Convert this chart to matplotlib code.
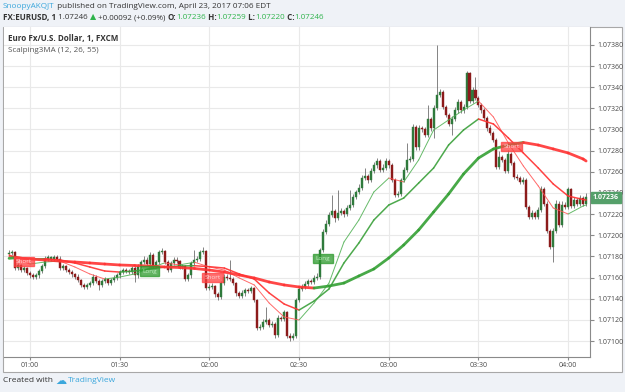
import numpy as np
import matplotlib
matplotlib.use("Agg")
import matplotlib.pyplot as plt
from matplotlib.collections import LineCollection
from matplotlib.patches import Rectangle

# ---------------- data (prices in 1e-5 units above 1.07000) ----------------
BASE = 1.07
first_minute = 53          # first 1-minute bar at 00:53
last_minute = 246          # last bar at 04:06

opens_pts = [
    182,183,184,169,172,167,169,164,162,161,
    162,166,171,178,178,178,179,178,169,171,
    167,165,163,161,158,153,151,153,155,161,
    157,153,157,159,155,158,160,162,165,167,
    166,165,169,162,171,175,177,173,181,171,
    175,184,185,175,167,174,177,176,170,171,
    159,162,174,177,178,184,185,150,151,152,
    144,142,155,161,160,159,155,145,143,145,
    148,147,150,139,112,113,118,120,115,116,
    106,122,121,127,105,103,105,139,149,151,
    154,157,156,160,161,186,203,211,219,223,
    216,221,223,220,226,229,236,241,245,254,
    256,252,261,266,270,262,264,270,266,252,
    238,239,252,262,271,272,302,283,301,300,
    295,310,301,320,333,335,321,314,305,310,
    318,326,318,321,353,327,337,330,323,318,
    311,301,297,290,265,274,271,261,277,268,
    255,254,250,252,227,217,221,217,224,244,
    230,204,189,204,230,210,229,227,244,228,
    233,230,235,230]
closes_pts = [
    183,184,169,172,167,169,164,162,161,162,
    166,171,178,178,178,179,178,169,171,167,
    165,163,161,158,153,151,153,155,161,157,
    153,157,159,155,158,160,162,165,167,166,
    165,169,162,171,175,177,173,181,171,175,
    184,185,175,167,174,177,176,170,171,159,
    162,174,177,178,184,185,150,151,152,144,
    142,155,161,160,159,155,145,143,145,148,
    147,150,139,112,113,118,120,115,116,106,
    122,121,127,105,103,105,139,149,151,154,
    157,156,160,161,186,203,211,219,223,216,
    221,223,220,226,229,236,241,245,254,256,
    252,261,266,270,262,264,270,266,252,238,
    239,252,262,271,272,302,283,301,300,295,
    310,301,320,333,335,321,314,305,310,318,
    326,318,321,353,327,337,330,323,318,311,
    301,297,290,265,274,271,261,277,268,255,
    254,250,252,227,217,221,217,224,244,230,
    204,189,204,230,210,229,227,244,228,233,
    230,235,230,236]
highs_pts = [
    186,186,185,174,173,171,170,166,164,164,
    168,173,180,181,180,181,181,180,173,172,
    169,167,164,163,159,155,155,157,163,162,
    159,159,161,160,160,162,164,167,169,169,
    168,171,171,173,177,180,179,184,183,177,
    186,188,186,177,176,179,179,177,173,172,
    164,176,186,180,186,189,186,154,155,153,
    146,157,163,163,177,161,156,147,148,150,
    150,152,151,140,116,121,132,122,119,118,
    125,124,129,128,108,108,141,152,154,157,
    159,159,162,164,188,206,214,222,238,225,
    243,226,225,229,243,239,243,248,257,264,
    258,264,269,273,272,267,273,272,268,254,
    242,254,265,287,275,305,304,304,303,302,
    323,312,323,380,338,337,323,316,313,321,
    329,328,324,355,354,340,350,332,325,320,
    313,304,299,292,280,276,273,281,279,270,
    258,256,255,254,229,224,223,227,247,246,
    232,206,207,233,232,232,231,246,245,236,
    235,238,237,240]
lows_pts = [
    180,181,167,167,165,165,162,160,159,159,
    160,164,169,176,176,176,176,167,167,165,
    163,161,159,156,151,149,149,151,153,155,
    148,151,155,153,153,156,158,160,163,164,
    163,163,156,160,169,173,171,171,169,169,
    173,182,173,165,165,172,174,168,168,157,
    157,160,172,175,176,182,148,148,149,142,
    139,140,153,158,157,153,143,141,141,143,
    145,145,137,110,110,111,116,113,113,103,
    104,119,119,103,100,101,103,137,147,149,
    152,154,154,158,159,184,201,209,217,213,
    214,219,217,218,224,227,234,239,243,252,
    249,250,259,264,260,260,262,264,250,236,
    236,237,250,260,269,270,281,281,298,293,
    293,299,292,318,331,319,312,303,295,308,
    316,316,316,319,325,325,328,321,316,309,
    299,295,288,263,263,269,259,259,266,253,
    252,248,248,225,215,215,215,215,222,228,
    202,187,175,202,208,208,225,225,226,226,
    228,228,228,228]

# Scalping3MA moving averages at these minutes
ma_minutes = [53, 55] + list(range(60, 246, 5)) + [246]
ma_slow_pts = [178.2,178.7,177.5,176.6,175.6,174.7,173.8,172.8,171.9,171.4,
               170.9,170.0,169.5,168.6,167.1,165.2,162.4,159.6,155.8,153.0,
               151.1,150.1,152.0,154.8,161.5,168.1,178.5,190.8,205.0,222.0,
               239.0,257.9,273.0,281.6,285.3,287.7,285.3,281.6,277.8,272.1,270.2]
ma_mid_pts = [180.4,179.9,177.5,177.8,176.6,173.8,170.0,166.2,165.2,166.2,
              168.1,170.0,170.9,171.2,170.3,169.0,163.4,158.6,145.4,135.0,
              129.3,137.8,149.2,173.8,192.7,214.4,228.6,235.2,249.4,263.6,
              285.3,299.5,309.9,305.2,292.0,277.8,263.6,248.5,237.1,233.8,233.3]
ma_fast_pts = [181.8,178.5,172.8,174.7,175.6,170.0,163.4,158.6,160.5,163.4,
               169.0,173.8,172.0,174.5,170.0,167.1,159.6,153.0,135.9,122.7,
               119.9,135.9,154.8,193.6,214.4,240.9,254.1,250.4,271.2,299.5,
               309.0,318.4,326.9,311.8,287.2,265.5,246.6,225.8,220.1,227.7,228.6]

# signal labels
signal_kind = ["Short", "Long", "Short", "Long", "Short"]
signal_minute = [58, 100, 121, 158, 221]
signal_pts = [175, 166, 160, 178, 284]

xtick_minutes = [60, 90, 120, 150, 180, 210, 240]
xtick_labels = ["01:00", "01:30", "02:00", "02:30", "03:00", "03:30", "04:00"]
ytick_pts = list(range(100, 381, 20))

last_price_label = "1.07236"

# ---------------- figure ----------------
W, H = 625, 392
fig = plt.figure(figsize=(W / 100, H / 100), dpi=100)
fig.patch.set_facecolor("#eff2f7")
FONT = ["Open Sans", "DejaVu Sans"]

bg = fig.add_axes([0, 0, 1, 1])
bg.set_xlim(0, W)
bg.set_ylim(H, 0)
bg.axis("off")
bg.add_patch(Rectangle((3, 27), 619, 345, facecolor="white", edgecolor="#a8a8a8", lw=0.8))

px_l, px_r, px_t, px_b = 4, 590, 27, 357
ax = fig.add_axes([px_l / W, 1 - px_b / H, (px_r - px_l) / W, (px_b - px_t) / H])
ax.set_facecolor("white")

def p(v):
    return BASE + np.asarray(v, dtype=float) / 1e5

minutes = np.arange(first_minute, last_minute + 1)
o, c, h, l = p(opens_pts), p(closes_pts), p(highs_pts), p(lows_pts)

ax.set_xlim(51.3, 247.3)
ax.set_ylim(p(84.9), p(396.9))

# grid
ax.set_xticks(xtick_minutes)
ax.set_xticklabels(xtick_labels)
ax.set_yticks(p(ytick_pts))
ax.set_yticklabels(["%.5f" % v for v in p(ytick_pts)])
ax.grid(True, color="#e9e9e9", lw=0.8)
ax.set_axisbelow(True)

# candles
up = c >= o
col = np.where(up, "#2f7a3c", "#8c1b1b")
ax.vlines(minutes, l, h, color="#6f6f6f", lw=0.6, zorder=2)
body_bot = np.minimum(o, c)
body_h = np.maximum(np.abs(c - o), 1e-5)
ax.bar(minutes, body_h, bottom=body_bot, width=0.68, color=col, edgecolor=col, lw=0.3, zorder=3)

# moving averages, coloured by direction
def ma_line(vals, lw, green, red, alpha):
    x = np.array(ma_minutes, dtype=float)
    y = p(vals)
    segs = [[(x[i], y[i]), (x[i + 1], y[i + 1])] for i in range(len(x) - 1)]
    cols = [green if y[i + 1] >= y[i] else red for i in range(len(x) - 1)]
    lc = LineCollection(segs, colors=cols, linewidths=lw, alpha=alpha, zorder=4,
                        capstyle="round", joinstyle="round")
    ax.add_collection(lc)

ma_line(ma_fast_pts, 0.7, "#4caf50", "#ff5050", 0.85)
ma_line(ma_mid_pts, 1.1, "#3aa03a", "#ff3030", 0.9)
ma_line(ma_slow_pts, 2.0, "#34a034", "#ff3333", 0.9)

# signal boxes
for kind, m, v in zip(signal_kind, signal_minute, signal_pts):
    fc = "#ff4040" if kind == "Short" else "#2e9a2e"
    tc = "#ffd6d6" if kind == "Short" else "#bfeebf"
    ax.text(m, p(v), kind, fontsize=4.6, color=tc, ha="center", va="center",
            family=FONT, zorder=6,
            bbox=dict(boxstyle="square,pad=0.35", fc=fc, ec=fc, alpha=0.75))

# axes styling
for s in ["top", "left"]:
    ax.spines[s].set_visible(False)
ax.spines["right"].set_color("#8a8a8a")
ax.spines["bottom"].set_color("#8a8a8a")
ax.yaxis.tick_right()
ax.tick_params(axis="y", length=3, pad=2, labelsize=5, colors="#8a8a8a", labelcolor="#4a4a4a")
ax.tick_params(axis="x", length=2.5, pad=1, labelsize=5, colors="#8a8a8a", labelcolor="#4a4a4a")
for t in ax.get_xticklabels() + ax.get_yticklabels():
    t.set_family(FONT)

# last price tag
ax.annotate(last_price_label, xy=(1.0, c[-1]), xycoords=("axes fraction", "data"),
            xytext=(2, 0), textcoords="offset points", ha="left", va="center",
            fontsize=5, color="white", fontweight="bold", family=FONT, zorder=10,
            annotation_clip=False,
            bbox=dict(boxstyle="square,pad=0.3", fc="#55a06a", ec="#55a06a"))

# in-chart titles
ax.text(0.007, 0.965, "Euro Fx/U.S. Dollar, 1, FXCM", transform=ax.transAxes,
        fontsize=5.8, fontweight="bold", color="#333333", family=FONT, va="center")
ax.text(0.007, 0.928, "Scalping3MA (12, 26, 55)", transform=ax.transAxes,
        fontsize=5.8, color="#555555", family=FONT, va="center")

# header lines
def chain(x, y, parts, size):
    t = bg.text(x, y, parts[0][0], color=parts[0][1], fontweight=parts[0][2],
                fontsize=size, family=FONT, va="center", ha="left")
    for s, colr, wt in parts[1:]:
        t = bg.annotate(s, xy=(1, 0.5), xycoords=t, va="center", ha="left",
                        color=colr, fontweight=wt, fontsize=size, family=FONT)
    return t

dark = "#333333"
grn = "#2eb34b"
chain(3, 6.5, [("SnoopyAKQJT", "#3ba7dc", "normal"),
               (" published on TradingView.com, April 23, 2017 07:06 EDT", dark, "normal")], 5.9)
chain(3, 17.5, [("FX:EURUSD, 1", dark, "bold"), (" 1.07246 ", dark, "normal"),
                ("\u25B2", grn, "normal"), (" +0.00092 (+0.09%) ", dark, "normal"),
                ("O:", dark, "bold"), ("1.07236", grn, "normal"),
                (" H:", dark, "bold"), ("1.07259", grn, "normal"),
                (" L:", dark, "bold"), ("1.07220", grn, "normal"),
                (" C:", dark, "bold"), ("1.07246", grn, "normal")], 5.8)

# footer
bg.text(3, 381, "Created with", fontsize=6, color=dark, family=FONT, va="center")
bg.text(55, 381, "\u2601", fontsize=8, color="#3ba7dc", family=FONT, va="center")
bg.text(68, 381, "TradingView", fontsize=6, color="#3ba7dc", family=FONT, va="center")

fig.savefig("out.png", dpi=100)
